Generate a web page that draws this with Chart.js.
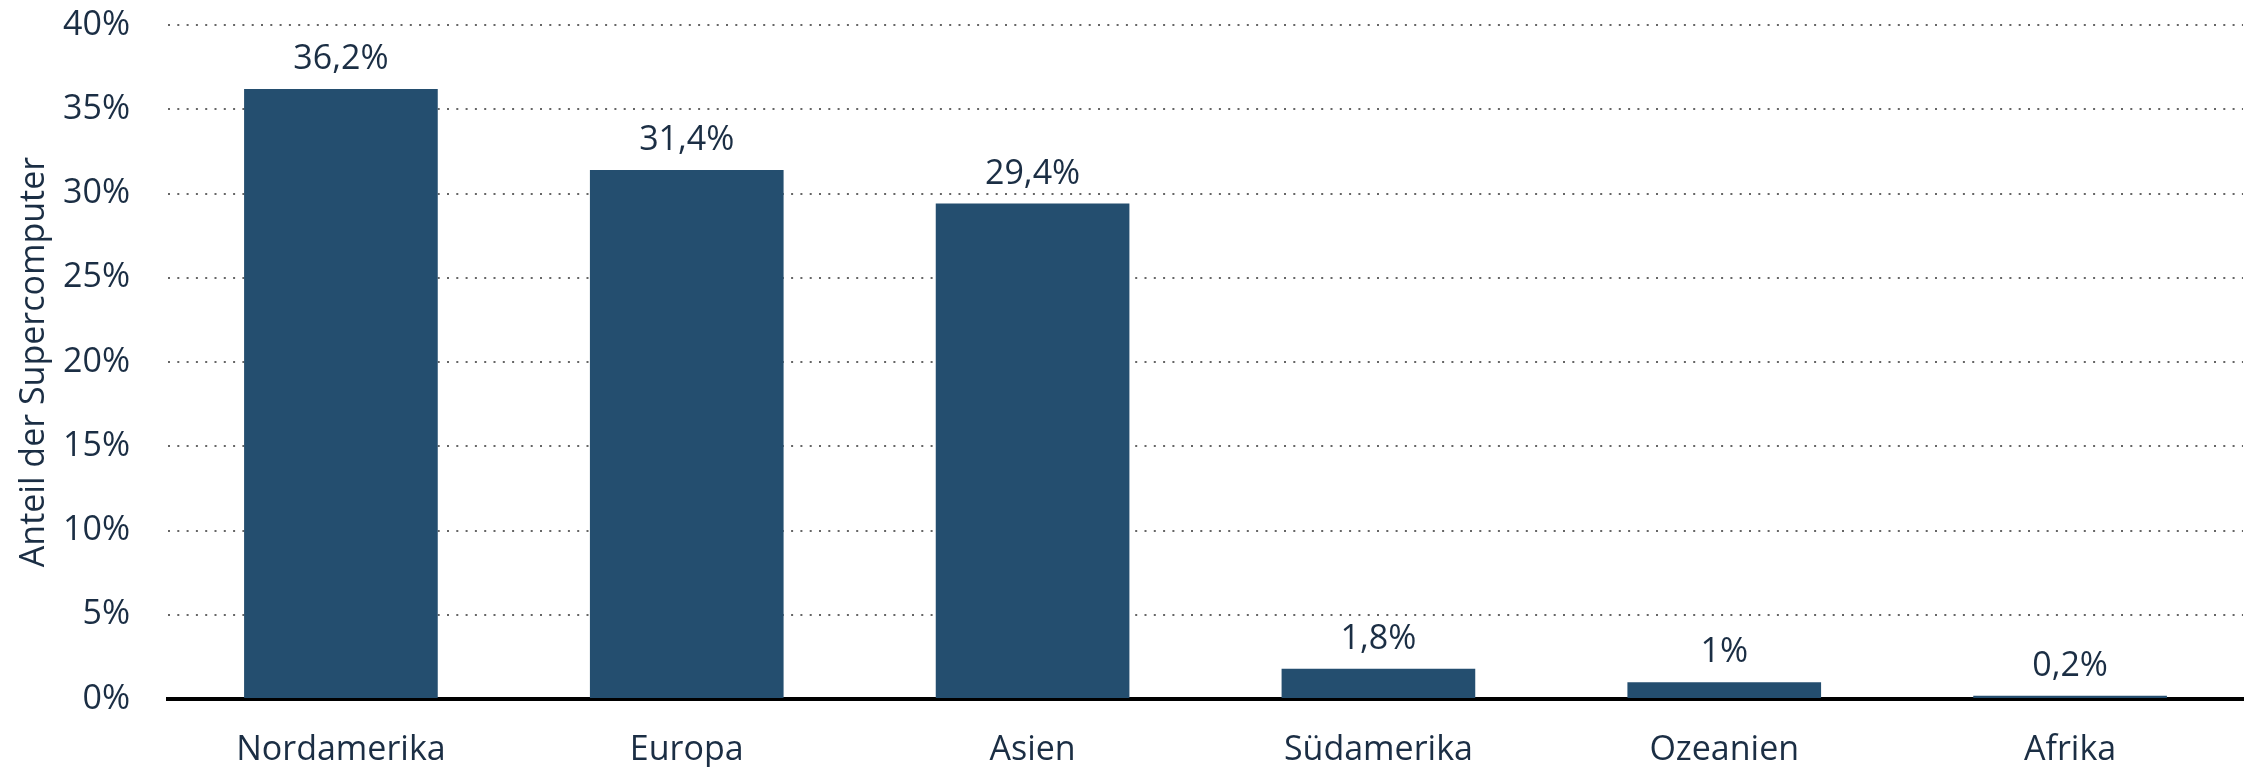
<!DOCTYPE html>
<html lang="de">
<head>
<meta charset="utf-8">
<title>Supercomputer nach Kontinent</title>
<script src="https://cdn.jsdelivr.net/npm/chart.js@4.4.1/dist/chart.umd.min.js"></script>
<style>
  html, body { margin: 0; padding: 0; background: #fff; }
  #wrap { width: 2257px; height: 767px; }
</style>
</head>
<body>
<div id="wrap"><canvas id="chart" width="2257" height="767"></canvas></div>
<script>
// Daten
const regionen = ["Nordamerika", "Europa", "Asien", "Südamerika", "Ozeanien", "Afrika"];
const anteile = [36.2, 31.4, 29.4, 1.8, 1, 0.2];
const yTicks = [0, 5, 10, 15, 20, 25, 30, 35, 40];

const textFarbe = "#1b2e44";
const balkenFarbe = "#244e6f";
const schrift = "'Open Sans', 'Noto Sans', sans-serif";

const fmt = v => String(v).replace(".", ",") + "%";

// Werte über den Balken
const wertLabels = {
  id: "wertLabels",
  afterDatasetsDraw(chart) {
    const ctx = chart.ctx;
    const meta = chart.getDatasetMeta(0);
    ctx.save();
    ctx.font = "34px " + schrift;
    ctx.fillStyle = textFarbe;
    ctx.textAlign = "center";
    ctx.textBaseline = "alphabetic";
    meta.data.forEach((bar, i) => {
      ctx.fillText(fmt(anteile[i]), bar.x, bar.y - 20);
    });
    ctx.restore();
  }
};

new Chart(document.getElementById("chart"), {
  type: "bar",
  data: {
    labels: regionen,
    datasets: [{
      data: anteile,
      backgroundColor: balkenFarbe,
      barPercentage: 0.56,
      categoryPercentage: 1
    }]
  },
  options: {
    responsive: false,
    devicePixelRatio: 1,
    animation: false,
    layout: { padding: { top: 25, right: 14, left: 0, bottom: 0 } },
    plugins: { legend: { display: false }, tooltip: { enabled: false } },
    scales: {
      x: {
        grid: { display: false, drawTicks: false },
        border: { display: true, color: "#000", width: 4 },
        ticks: { color: textFarbe, font: { family: schrift, size: 34 }, padding: 31 },
        afterFit: s => { s.height = 68; s.paddingLeft = 0; s.paddingRight = 0; }
      },
      y: {
        min: 0,
        max: 40,
        afterBuildTicks: s => { s.ticks = yTicks.map(v => ({ value: v })); },
        grid: { color: "#666", lineWidth: 2, drawTicks: false },
        border: { display: false, dash: [2, 7.3] },
        ticks: {
          color: textFarbe,
          font: { family: schrift, size: 34 },
          padding: 38,
          callback: v => v + "%"
        },
        title: {
          display: true,
          text: "Anteil der Supercomputer",
          color: textFarbe,
          font: { family: schrift, size: 34 },
          padding: { top: 14, bottom: 0 }
        },
        afterFit: s => { s.width = 168; s.paddingTop = 0; s.paddingBottom = 0; }
      }
    }
  },
  plugins: [wertLabels]
});
</script>
</body>
</html>
